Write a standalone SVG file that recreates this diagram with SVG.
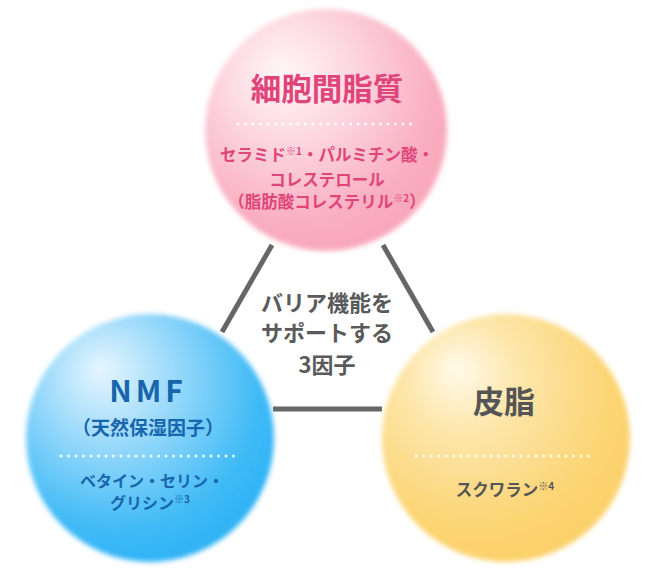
<svg xmlns="http://www.w3.org/2000/svg" width="652" height="580" viewBox="0 0 652 580">
<defs>
<radialGradient id="gPink" cx="0.38" cy="0.32" r="0.72" fx="0.32" fy="0.26">
<stop offset="0" stop-color="#fff6f8"/>
<stop offset="0.35" stop-color="#fdd9e2"/>
<stop offset="0.8" stop-color="#f9aec1"/>
<stop offset="1" stop-color="#f8a6ba"/>
</radialGradient>
<radialGradient id="gBlue" cx="0.38" cy="0.32" r="0.72" fx="0.3" fy="0.22">
<stop offset="0" stop-color="#e6f6ff"/>
<stop offset="0.3" stop-color="#a9dffb"/>
<stop offset="0.8" stop-color="#3fbaf6"/>
<stop offset="1" stop-color="#2db2f5"/>
</radialGradient>
<radialGradient id="gYellow" cx="0.38" cy="0.32" r="0.72" fx="0.3" fy="0.22">
<stop offset="0" stop-color="#fffaea"/>
<stop offset="0.3" stop-color="#fde7ad"/>
<stop offset="0.8" stop-color="#fcd471"/>
<stop offset="1" stop-color="#fbd06a"/>
</radialGradient>
<filter id="soft" x="-10%" y="-10%" width="120%" height="120%">
<feGaussianBlur stdDeviation="2.5"/>
</filter>
<style>
.title{font-family:"Noto Sans CJK JP","Noto Sans",sans-serif;font-weight:700;text-anchor:middle}
.sub{font-family:"Noto Sans CJK JP","Noto Sans",sans-serif;font-weight:700;font-size:16.5px;text-anchor:middle}
.sub2{font-family:"Noto Sans CJK JP","Noto Sans",sans-serif;font-weight:700;font-size:16px;text-anchor:middle}
.sup{font-size:10px}
.dots{stroke:#ffffff;stroke-width:3;stroke-linecap:round;stroke-dasharray:0 7.5;fill:none;opacity:0.9}
.conn{stroke:#666666;stroke-width:5;fill:none}
.center{font-family:"Noto Sans CJK JP","Noto Sans",sans-serif;font-weight:700;font-size:22px;fill:#5a5a5a;text-anchor:middle}
</style>
</defs>
<rect width="652" height="580" fill="#ffffff"/>
<g id="connectors">
<line class="conn" x1="272" y1="245" x2="222" y2="332"/>
<line class="conn" x1="383" y1="245" x2="433" y2="332"/>
<line class="conn" x1="273" y1="409" x2="382" y2="409"/>
</g>
<g id="center-label">
<text class="center" x="327" y="311">バリア機能を</text>
<text class="center" x="327" y="341">サポートする</text>
<text class="center" x="327" y="373">3因子</text>
</g>
<g id="node-lipid">
<circle cx="326" cy="130" r="121" fill="url(#gPink)" filter="url(#soft)"/>
<text class="title" x="327" y="100" font-size="30.5" fill="#e0457a">細胞間脂質</text>
<line class="dots" x1="238" y1="124" x2="418" y2="124"/>
<text class="sub" x="327" y="161" fill="#e0457a">セラミド<tspan class="sup" dy="-6">※1</tspan><tspan dy="6">・パルミチン酸・</tspan></text>
<text class="sub" x="327" y="186" fill="#e0457a">コレステロール</text>
<text class="sub" x="327" y="208" fill="#e0457a">（脂肪酸コレステリル<tspan class="sup" dy="-6">※2</tspan><tspan dy="6">）</tspan></text>
</g>
<g id="node-nmf">
<circle cx="150" cy="438" r="124" fill="url(#gBlue)" filter="url(#soft)"/>
<text class="title" x="148" y="402" font-size="30" letter-spacing="4" fill="#1766ad">NMF</text>
<text class="title" x="148" y="435" font-size="19" fill="#1766ad">（天然保湿因子）</text>
<line class="dots" x1="61" y1="456" x2="240" y2="456"/>
<text class="sub2" x="152" y="487" fill="#1766ad">ベタイン・セリン・</text>
<text class="sub2" x="150" y="509" fill="#1766ad">グリシン<tspan class="sup" dy="-6">※3</tspan></text>
</g>
<g id="node-sebum">
<circle cx="506" cy="438" r="124" fill="url(#gYellow)" filter="url(#soft)"/>
<text class="title" x="504" y="413" font-size="31" fill="#555555">皮脂</text>
<line class="dots" x1="416" y1="456" x2="596" y2="456"/>
<text class="sub" x="505" y="496" fill="#555555">スクワラン<tspan class="sup" dy="-6">※4</tspan></text>
</g>
</svg>
